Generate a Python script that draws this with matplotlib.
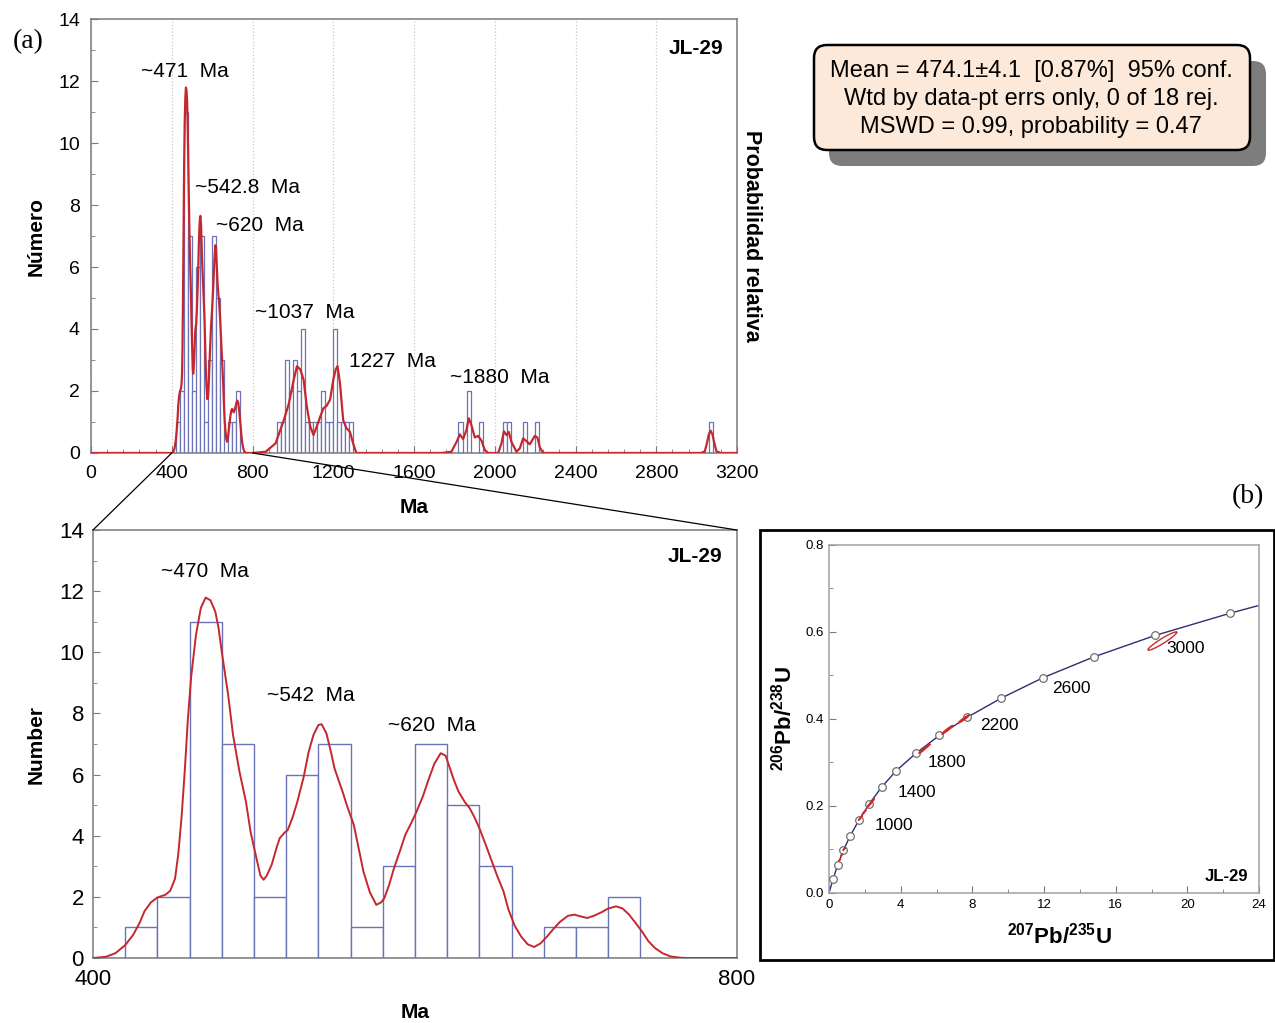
import numpy as np
import matplotlib.pyplot as plt
from matplotlib.patches import FancyBboxPatch, Rectangle, ConnectionPatch

plt.rcParams['font.family'] = ['Liberation Sans', 'DejaVu Sans']
plt.rcParams['mathtext.fontset'] = 'custom'
plt.rcParams['mathtext.rm'] = 'Liberation Sans'
plt.rcParams['mathtext.bf'] = 'Liberation Sans:bold'

# histogram, 20 Ma bins (left edges) - young group, also shown zoomed below
BIN_W = 20
young_bins = [420, 440, 460, 480, 500, 520, 540, 560, 580, 600, 620, 640, 660, 680, 700, 720]
young_counts = [1, 2, 11, 7, 2, 6, 7, 1, 3, 7, 5, 3, 0, 1, 1, 2]
# older grains
old_bins = [920, 940, 960, 980, 1000, 1020, 1040, 1060, 1080, 1100, 1120, 1140, 1160, 1180,
            1200, 1220, 1240, 1260, 1280, 1820, 1860, 1920, 2040, 2060, 2140, 2200, 3060]
old_counts = [1, 1, 3, 2, 3, 2, 4, 1, 1, 1, 1, 2, 1, 1,
              4, 1, 1, 1, 1, 1, 2, 1, 1, 1, 1, 1, 1]

# probability density curve (400-800 Ma)
pdp_young_age = [400, 408, 414, 420, 425, 429, 432, 436, 440, 445, 448, 451, 453, 455, 457,
                 459, 461, 464, 467, 470, 473, 476, 478, 480, 484, 487, 491, 495, 498, 502,
                 504, 506, 508, 511, 514, 516, 519, 521, 524, 527, 531, 534, 537, 540, 542,
                 545, 548, 550, 553, 555, 558, 562, 565, 568, 572, 576, 579, 581, 584, 587,
                 591, 594, 598, 601, 605, 608, 612, 616, 619, 621, 624, 627, 631, 634, 637,
                 640, 644, 647, 651, 655, 658, 662, 666, 670, 674, 678, 682, 686, 690, 695,
                 699, 703, 707, 711, 716, 720, 725, 729, 733, 737, 741, 745, 749, 754, 759,
                 765, 770, 800]
pdp_young_val = [0.0, 0.04, 0.16, 0.42, 0.76, 1.15, 1.53, 1.82, 1.98, 2.07, 2.20, 2.60, 3.40,
                 4.58, 6.10, 7.84, 9.20, 10.57, 11.45, 11.79, 11.70, 11.33, 10.80, 10.02, 8.60,
                 7.30, 6.10, 5.12, 4.10, 3.16, 2.70, 2.56, 2.70, 3.05, 3.60, 3.92, 4.10, 4.19,
                 4.60, 5.12, 5.95, 6.75, 7.30, 7.62, 7.65, 7.35, 6.70, 6.21, 5.75, 5.45, 4.95,
                 4.36, 3.60, 2.83, 2.15, 1.74, 1.82, 1.96, 2.40, 2.94, 3.55, 4.03, 4.45, 4.79,
                 5.30, 5.77, 6.35, 6.70, 6.62, 6.32, 5.85, 5.45, 5.10, 4.90, 4.60, 4.25, 3.70,
                 3.27, 2.70, 2.18, 1.60, 1.05, 0.70, 0.45, 0.36, 0.48, 0.70, 0.95, 1.18, 1.38,
                 1.42, 1.36, 1.31, 1.38, 1.50, 1.62, 1.69, 1.62, 1.42, 1.15, 0.87, 0.55, 0.33,
                 0.15, 0.05, 0.01, 0.0, 0.0]
# probability density curve, older part (800-3200 Ma)
pdp_old_age = [865, 914, 955, 980, 1004, 1020, 1037, 1053, 1069, 1086, 1102, 1118, 1135,
               1151, 1167, 1184, 1200, 1212, 1221, 1233, 1249, 1265, 1282, 1298, 1314,
               1736, 1785, 1810, 1827, 1843, 1860, 1871, 1884, 1901, 1917, 1934, 1950, 1967,
               2017, 2033, 2045, 2058, 2069, 2083, 2107, 2124, 2140, 2157, 2173, 2198, 2211,
               2223, 2239, 3020, 3040, 3050, 3060, 3069, 3078, 3088, 3098, 3120, 3200]
pdp_old_val = [0.04, 0.31, 1.06, 1.60, 2.36, 2.80, 2.69, 2.36, 1.49, 0.85, 0.58, 0.85, 1.17,
               1.44, 1.52, 1.72, 2.36, 2.70, 2.80, 2.26, 1.06, 0.80, 0.69, 0.31, 0.0,
               0.0, 0.04, 0.35, 0.60, 0.45, 0.75, 1.12, 0.90, 0.50, 0.55, 0.40, 0.10, 0.0,
               0.0, 0.31, 0.70, 0.58, 0.68, 0.35, 0.04, 0.15, 0.47, 0.38, 0.28, 0.55, 0.50,
               0.18, 0.0, 0.0, 0.05, 0.30, 0.60, 0.72, 0.60, 0.30, 0.05, 0.0, 0.0]

# concordia age markers (every 200 Ma)
conc_x = [0.0, 0.22, 0.48, 0.80, 1.19, 1.68, 2.25, 2.93, 3.75, 4.85, 6.15, 7.72, 9.62, 11.95,
          14.80, 18.20, 22.38, 24.0]
conc_y = [0.0, 0.031, 0.064, 0.098, 0.132, 0.168, 0.205, 0.243, 0.281, 0.321, 0.362, 0.404,
          0.448, 0.495, 0.543, 0.592, 0.643, 0.661]
conc_labels = ['1000', '1400', '1800', '2200', '2600', '3000']
conc_label_x = [3.6, 4.9, 6.6, 9.5, 13.5, 19.9]
conc_label_y = [0.155, 0.230, 0.299, 0.384, 0.470, 0.562]

# analyses: ratio, error (x, y) and correlation
ell_x = [0.59, 0.70, 0.84, 1.75, 1.95, 2.25, 2.40, 5.20, 5.45, 6.50, 6.70, 7.45, 7.60, 18.60]
ell_y = [0.0757, 0.087, 0.101, 0.172, 0.185, 0.203, 0.210, 0.327, 0.336, 0.372, 0.378, 0.398,
         0.402, 0.579]
ell_sx = [0.05, 0.05, 0.06, 0.10, 0.10, 0.12, 0.12, 0.18, 0.18, 0.20, 0.20, 0.22, 0.22, 0.80]
ell_sy = [0.002, 0.002, 0.003, 0.005, 0.005, 0.006, 0.006, 0.006, 0.006, 0.007, 0.007, 0.007,
          0.007, 0.021]
ell_rho = 0.95

stats_lines = ['Mean = 474.1\u00b14.1  [0.87%]  95% conf.',
               'Wtd by data-pt errs only, 0 of 18 rej.',
               'MSWD = 0.99, probability = 0.47']

BAR = '#6b72b5'
RED = '#c4282e'
SPINE = '#7a7a7a'


def style_axes(ax, size, ypad, xpad):
    for s in ax.spines.values():
        s.set_color(SPINE)
        s.set_linewidth(1.1)
    ax.tick_params(which='both', direction='in', colors=SPINE, labelcolor='black',
                   labelsize=size)
    ax.tick_params(which='major', length=5)
    ax.tick_params(which='minor', length=3)
    ax.tick_params(axis='y', pad=ypad)
    ax.tick_params(axis='x', pad=xpad)


fig = plt.figure(figsize=(12.75, 10.23), dpi=100)

# overlay in pixel units for frame, stats box, panel letters
ov = fig.add_axes([0, 0, 1, 1])
ov.set_xlim(0, 1275)
ov.set_ylim(1023, 0)
ov.axis('off')
ov.add_patch(FancyBboxPatch((829, 61), 437, 105, boxstyle='round,pad=0,rounding_size=13',
                            facecolor='#7d7d7d', edgecolor='none'))
ov.add_patch(FancyBboxPatch((814, 45), 436, 105, boxstyle='round,pad=0,rounding_size=13',
                            facecolor='#fde9d9', edgecolor='black', linewidth=1.8))
for i, line in enumerate(stats_lines):
    ov.text(1031, 71 + i * 28, line, ha='center', va='center', fontsize=17)
ov.add_patch(Rectangle((760, 530), 514, 430, facecolor='none', edgecolor='black', linewidth=2))
ov.text(28, 42, '(a)', family='Liberation Serif', fontsize=20, ha='center', va='center')
ov.text(1248, 497, '(b)', family='Liberation Serif', fontsize=20, ha='center', va='center')

# (a) top: full age spectrum
ax_top = fig.add_axes([0.0714, 0.5572, 0.5067, 0.4242])
ax_top.bar(young_bins + old_bins, young_counts + old_counts, width=BIN_W, align='edge',
           facecolor='white', edgecolor=BAR, linewidth=0.9, zorder=2)
ax_top.plot([0] + pdp_young_age + pdp_old_age, [0] + pdp_young_val + pdp_old_val,
            color=RED, lw=1.6, zorder=3)
ax_top.set_xlim(0, 3200)
ax_top.set_ylim(0, 14)
ax_top.set_xticks(range(0, 3201, 400))
ax_top.set_xticks(range(0, 3201, 80), minor=True)
ax_top.set_yticks(range(0, 15, 2))
ax_top.set_yticks(range(0, 15), minor=True)
ax_top.grid(axis='x', which='major', color='#c8c8c8', linestyle=':', linewidth=0.9, zorder=0)
style_axes(ax_top, 14, 8, 9)
ax_top.set_xlabel('Ma', fontsize=15, fontweight='bold')
ax_top.xaxis.set_label_coords(0.5, -0.104)
ax_top.set_ylabel('Número', fontsize=15, fontweight='bold')
ax_top.yaxis.set_label_coords(-0.070, 0.5)
ax_top.text(1.023, 0.5, 'Probabilidad relativa', transform=ax_top.transAxes, rotation=-90,
            ha='center', va='center', fontsize=15.5, fontweight='bold')
ax_top.text(0.978, 0.931, 'JL-29', transform=ax_top.transAxes, ha='right', va='center',
            fontsize=15, fontweight='bold')
ax_top.text(466, 12.3, '~471  Ma', ha='center', va='center', fontsize=15)
ax_top.text(773, 8.55, '~542.8  Ma', ha='center', va='center', fontsize=15)
ax_top.text(837, 7.35, '~620  Ma', ha='center', va='center', fontsize=15)
ax_top.text(1060, 4.52, '~1037  Ma', ha='center', va='center', fontsize=15)
ax_top.text(1491, 2.94, '1227  Ma', ha='center', va='center', fontsize=15)
ax_top.text(2026, 2.45, '~1880  Ma', ha='center', va='center', fontsize=15)

# (a) bottom: 400-800 Ma detail
ax_bot = fig.add_axes([0.0729, 0.0635, 0.5051, 0.4184])
ax_bot.bar(young_bins, young_counts, width=BIN_W, align='edge', facecolor='white',
           edgecolor=BAR, linewidth=1.0, zorder=2)
ax_bot.plot(pdp_young_age, pdp_young_val, color=RED, lw=1.4, zorder=3)
ax_bot.set_xlim(400, 800)
ax_bot.set_ylim(0, 14)
ax_bot.set_xticks([400, 800])
ax_bot.set_yticks(range(0, 15, 2))
ax_bot.set_yticks(range(0, 15), minor=True)
style_axes(ax_bot, 16, 6.5, 8)
ax_bot.tick_params(axis='x', which='major', length=0)
ax_bot.set_xlabel('Ma', fontsize=15, fontweight='bold')
ax_bot.xaxis.set_label_coords(0.5, -0.104)
ax_bot.set_ylabel('Number', fontsize=15, fontweight='bold')
ax_bot.yaxis.set_label_coords(-0.073, 0.5)
ax_bot.text(0.977, 0.939, 'JL-29', transform=ax_bot.transAxes, ha='right', va='center',
            fontsize=15, fontweight='bold')
ax_bot.text(469.6, 12.63, '~470  Ma', ha='center', va='center', fontsize=15)
ax_bot.text(535.4, 8.6, '~542  Ma', ha='center', va='center', fontsize=15)
ax_bot.text(610.6, 7.62, '~620  Ma', ha='center', va='center', fontsize=15)

# zoom lines between the two histograms
for xa, xb in [(400, 0), (800, 1)]:
    con = ConnectionPatch(xyA=(xa, 0), coordsA='data', axesA=ax_top,
                          xyB=(xb, 1), coordsB='axes fraction', axesB=ax_bot,
                          color='black', linewidth=0.9)
    fig.add_artist(con)

# (b) concordia diagram
ax_c = fig.add_axes([0.6502, 0.1271, 0.3373, 0.3402])
ax_c.plot(conc_x, conc_y, color='#2e2f6e', lw=1.0, zorder=2)
ax_c.plot(conc_x[1:-1], conc_y[1:-1], 'o', ms=5.5, mfc='white', mec='#707070', mew=0.9,
          zorder=3)
t = np.linspace(0, 2 * np.pi, 80)
for x0, y0, sx, sy in zip(ell_x, ell_y, ell_sx, ell_sy):
    cov = np.array([[sx * sx, ell_rho * sx * sy], [ell_rho * sx * sy, sy * sy]])
    L = np.linalg.cholesky(cov)
    pts = L @ np.vstack([np.cos(t), np.sin(t)])
    ax_c.plot(x0 + pts[0], y0 + pts[1], color='#d02a2a', lw=1.0, zorder=4)
for lab, lx, ly in zip(conc_labels, conc_label_x, conc_label_y):
    ax_c.text(lx, ly, lab, ha='center', va='center', fontsize=12.5)
ax_c.set_xlim(0, 24)
ax_c.set_ylim(0, 0.8)
ax_c.set_xticks(range(0, 25, 4))
ax_c.set_xticks(range(0, 25, 2), minor=True)
ax_c.set_yticks([0.0, 0.2, 0.4, 0.6, 0.8])
ax_c.set_yticks(np.arange(0, 0.81, 0.1), minor=True)
ax_c.yaxis.set_major_formatter(plt.FormatStrFormatter('%.1f'))
style_axes(ax_c, 9.5, 4, 4)
for s in ax_c.spines.values():
    s.set_color('#a0a0a0')
ax_c.set_xlabel(r'$\mathbf{^{207}Pb/^{235}U}$', fontsize=16)
ax_c.xaxis.set_label_coords(0.535, -0.085)
ax_c.set_ylabel(r'$\mathbf{^{206}Pb/^{238}U}$', fontsize=16)
ax_c.yaxis.set_label_coords(-0.075, 0.5)
ax_c.text(0.974, 0.046, 'JL-29', transform=ax_c.transAxes, ha='right', va='center',
          fontsize=12, fontweight='bold')

fig.savefig('out.png', dpi=100)
